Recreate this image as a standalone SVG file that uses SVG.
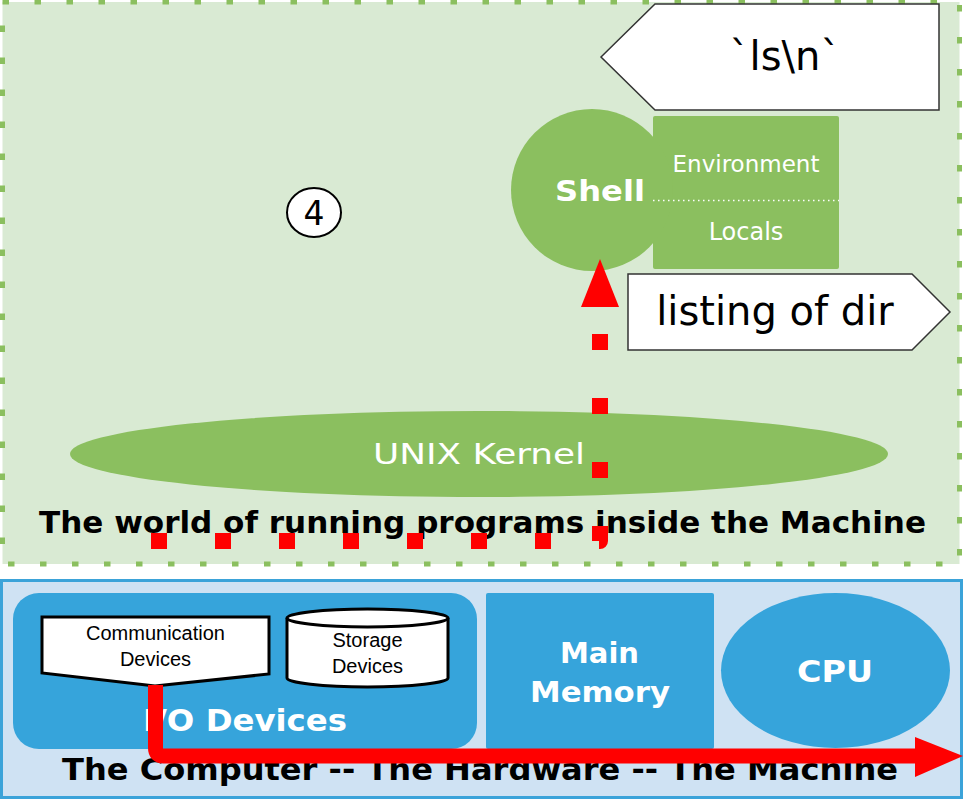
<svg xmlns="http://www.w3.org/2000/svg" width="964" height="800" viewBox="0 0 964 800">
<defs>
<style>
.geo{font-family:"DejaVu Sans","Liberation Sans",sans-serif;}
.bold{font-weight:bold;}
.wt{fill:#ffffff;}
.bk{fill:#000000;}
.gnode{fill:#8bbf5f;}
.bnode{fill:#36a4db;}
.callout{fill:#ffffff;stroke:#333333;stroke-width:1.5;}
.hw{fill:#ffffff;stroke:#000000;stroke-width:3;}
.arial{font-family:"Liberation Sans",Arial,sans-serif;}
</style>
</defs>
<rect width="964" height="800" fill="#ffffff"/>
<g id="software-world">
<rect x="2.5" y="2" width="957" height="562" fill="#d9ead3" stroke="#8bbf5f" stroke-width="5" stroke-dasharray="6.5 25.5"/>
<text class="geo bold bk" x="39" y="533" font-size="30" textLength="887" lengthAdjust="spacingAndGlyphs">The world of running programs inside the Machine</text>
</g>
<g id="hardware">
<rect x="1.5" y="580.5" width="960" height="217" fill="#cfe2f3" stroke="#3ba3d9" stroke-width="3"/>
<text class="geo bold bk" x="62" y="780" font-size="31" textLength="836" lengthAdjust="spacingAndGlyphs">The Computer -- The Hardware -- The Machine</text>
</g>
<g id="io-devices">
<rect class="bnode" x="13" y="593" width="464" height="156" rx="26"/>
<text class="geo bold wt" x="143" y="731" font-size="31" textLength="204" lengthAdjust="spacingAndGlyphs">I/O Devices</text>
</g>
<g id="communication-devices">
<polygon class="hw" points="42,617 269,617 269,674 155,686 42,673"/>
<text class="arial bk" x="155.5" y="640" font-size="20" text-anchor="middle">Communication</text>
<text class="arial bk" x="155.5" y="666" font-size="20" text-anchor="middle">Devices</text>
</g>
<g id="storage-devices">
<path class="hw" d="M287,618 A80.5,9 0 0 1 448,618 V678 A80.5,9 0 0 1 287,678 Z"/>
<path d="M287,618 A80.5,9 0 0 0 448,618" fill="none" stroke="#000000" stroke-width="3"/>
<text class="arial bk" x="367.5" y="647" font-size="20" text-anchor="middle">Storage</text>
<text class="arial bk" x="367.5" y="673" font-size="20" text-anchor="middle">Devices</text>
</g>
<g id="main-memory">
<rect class="bnode" x="486" y="593" width="228" height="156" rx="2"/>
<text class="geo bold wt" x="560" y="663" font-size="29" textLength="79" lengthAdjust="spacingAndGlyphs">Main</text>
<text class="geo bold wt" x="530" y="702" font-size="29" textLength="140" lengthAdjust="spacingAndGlyphs">Memory</text>
</g>
<g id="cpu">
<ellipse class="bnode" cx="835.5" cy="670.5" rx="114.5" ry="77.5"/>
<text class="geo bold wt" x="797" y="682" font-size="30" textLength="76" lengthAdjust="spacingAndGlyphs">CPU</text>
</g>
<g id="unix-kernel">
<ellipse class="gnode" cx="479" cy="454" rx="409" ry="43"/>
<text class="geo wt" x="373" y="464" font-size="29" textLength="212" lengthAdjust="spacingAndGlyphs">UNIX Kernel</text>
</g>
<g id="shell">
<rect class="gnode" x="653" y="116" width="186" height="153" rx="2"/>
<circle class="gnode" cx="592" cy="190" r="81"/>
<line x1="653" y1="200.5" x2="839" y2="200.5" stroke="#ffffff" stroke-width="1.5" stroke-dasharray="1.5 3.5"/>
<text class="geo bold wt" x="555" y="201" font-size="29" textLength="90" lengthAdjust="spacingAndGlyphs">Shell</text>
<text class="geo wt" x="746" y="172" font-size="23" text-anchor="middle">Environment</text>
<text class="geo wt" x="746" y="240" font-size="24" text-anchor="middle">Locals</text>
</g>
<g id="step-4">
<ellipse cx="314" cy="212.5" rx="27" ry="24.5" fill="#ffffff" stroke="#000000" stroke-width="2"/>
<text class="geo bk" x="314" y="225" font-size="33" text-anchor="middle">4</text>
</g>
<g id="input-ls">
<polygon class="callout" points="601,57 655,4 939,4 939,110 655,110"/>
<text class="geo bk" x="785" y="70" font-size="40" text-anchor="middle">`ls\n`</text>
</g>
<g id="output-listing">
<polygon class="callout" points="628,274 912,274 950,312 912,350 628,350"/>
<text class="geo bk" x="775" y="325" font-size="40" text-anchor="middle">listing of dir</text>
</g>
<g id="connectors">
<path d="M151,541 H600 V307" fill="none" stroke="#ff0000" stroke-width="16" stroke-dasharray="16 48" stroke-linejoin="round"/>
<polygon points="600,259 581,307 619,307" fill="#ff0000"/>
<path d="M155.5,685 V748 Q155.5,756 163.5,756 H916" fill="none" stroke="#ff0000" stroke-width="15"/>
<polygon points="915,737 963,756 915,777" fill="#ff0000"/>
</g>
</svg>
